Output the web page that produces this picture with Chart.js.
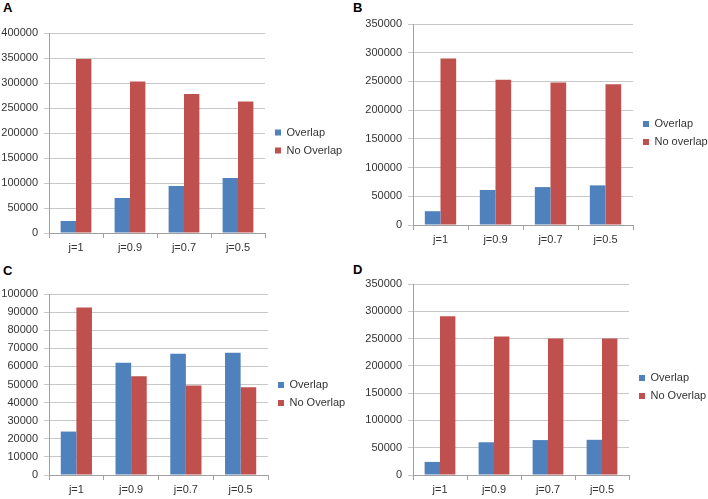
<!DOCTYPE html>
<html>
<head>
<meta charset="utf-8">
<script src="https://cdn.jsdelivr.net/npm/chart.js@4.4.1/dist/chart.umd.min.js"></script>
<style>
    body { margin: 0; background: #fff; width: 708px; height: 499px; position: relative; overflow: hidden; }
    canvas { position: absolute; }
    .letra { position: absolute; font: bold 13px "Liberation Sans", Arial, sans-serif; color: #000; }
</style>
</head>
<body>
<div class="letra" style="left:3px; top:0px;">A</div>
<div class="letra" style="left:353px; top:0px;">B</div>
<div class="letra" style="left:3px; top:263px;">C</div>
<div class="letra" style="left:353px; top:262px;">D</div>

<canvas id="chartA" width="354" height="260" style="left:0; top:0;"></canvas>
<canvas id="chartB" width="354" height="260" style="left:354px; top:0;"></canvas>
<canvas id="chartC" width="354" height="249" style="left:0; top:250px;"></canvas>
<canvas id="chartD" width="354" height="249" style="left:354px; top:250px;"></canvas>

<script>
// 1. DADOS
const categorias = ['j=1', 'j=0.9', 'j=0.7', 'j=0.5'];

const overlapA = [24000, 70000, 94000, 110000];
const noOverlapA = [348000, 303000, 278000, 263000];
const ticksA = [0, 50000, 100000, 150000, 200000, 250000, 300000, 350000, 400000];

const overlapB = [24000, 61000, 66000, 69000];
const noOverlapB = [290000, 253000, 248000, 245000];
const ticksB = [0, 50000, 100000, 150000, 200000, 250000, 300000, 350000];

const overlapC = [24000, 62000, 67000, 67500];
const noOverlapC = [92500, 54500, 49500, 48500];
const ticksC = [0, 10000, 20000, 30000, 40000, 50000, 60000, 70000, 80000, 90000, 100000];

const overlapD = [24000, 60000, 64000, 64500];
const noOverlapD = [291000, 254000, 250000, 250000];
const ticksD = [0, 50000, 100000, 150000, 200000, 250000, 300000, 350000];

const AZUL = '#4F81BD';
const VERMELHO = '#C0504D';

Chart.defaults.font.family = "'Liberation Sans', Arial, sans-serif";
Chart.defaults.font.size = 11;
Chart.defaults.color = '#333';

// empurra a legenda um pouco (o Excel centra a legenda na altura total)
const ajusteLegenda = {
    id: 'ajusteLegenda',
    afterLayout(chart, args, opts) {
        const lg = chart.legend;
        if (!lg) return;
        lg.left += opts.dx || 0;
        lg.top += opts.dy || 0;
        lg.bottom += opts.dy || 0;
    }
};

// 2. FUNÇÃO QUE MONTA CADA PAINEL
// area = [esquerda, topo, direita, base] da área de plotagem, em px do canvas
function criarGrafico(id, overlap, noOverlap, nomes, ticks, area, dy) {
    const canvas = document.getElementById(id);
    const W = canvas.width, H = canvas.height;
    const [esq, topo, dir, base] = area;

    const opcoes = {
        responsive: false,
        animation: false,
        layout: { padding: { left: 0, top: topo, right: 0, bottom: 0 } },
        scales: {
            x: {
                grid: { display: true, drawOnChartArea: false, drawTicks: true, tickLength: 5, color: '#A0A0A0', offset: true },
                border: { color: '#A0A0A0' },
                ticks: { padding: 3, maxRotation: 0 },
                afterFit: s => { s.height = H - base; }
            },
            y: {
                min: ticks[0],
                max: ticks[ticks.length - 1],
                grid: { color: '#C8C8C8', tickLength: 5 },
                border: { color: '#A0A0A0' },
                ticks: { padding: 6, callback: v => String(v) },
                afterBuildTicks: s => { s.ticks = ticks.map(v => ({ value: v })); },
                afterFit: s => { s.width = esq; }
            }
        },
        plugins: {
            legend: {
                position: 'right',
                fullSize: false,
                maxWidth: W - dir,
                labels: { boxWidth: 6, boxHeight: 6, padding: 7, color: '#333' }
            },
            tooltip: { enabled: false },
            ajusteLegenda: { dx: 3, dy: dy }
        }
    };

    const chart = new Chart(canvas, {
        type: 'bar',
        data: {
            labels: categorias,
            datasets: [
                { label: nomes[0], data: overlap, backgroundColor: AZUL, borderWidth: 0, categoryPercentage: 0.57, barPercentage: 1 },
                { label: nomes[1], data: noOverlap, backgroundColor: VERMELHO, borderWidth: 0, categoryPercentage: 0.57, barPercentage: 1 }
            ]
        },
        options: opcoes,
        plugins: [ajusteLegenda]
    });

    // margem direita para a área de plotagem terminar onde termina na figura
    opcoes.layout.padding.right = Math.max(0, W - dir - chart.legend.width);
    chart.update();
    return chart;
}

// 3. INICIALIZAÇÃO
criarGrafico('chartA', overlapA, noOverlapA, ['Overlap', 'No Overlap'], ticksA, [49, 33, 265, 233], 8.5);
criarGrafico('chartB', overlapB, noOverlapB, ['Overlap', 'No overlap'], ticksB, [59, 24, 279, 225], 8.5);
criarGrafico('chartC', overlapC, noOverlapC, ['Overlap', 'No Overlap'], ticksC, [49, 44, 268, 225], 9.5);
criarGrafico('chartD', overlapD, noOverlapD, ['Overlap', 'No Overlap'], ticksD, [59, 34, 275, 225], 7.5);
</script>
</body>
</html>
